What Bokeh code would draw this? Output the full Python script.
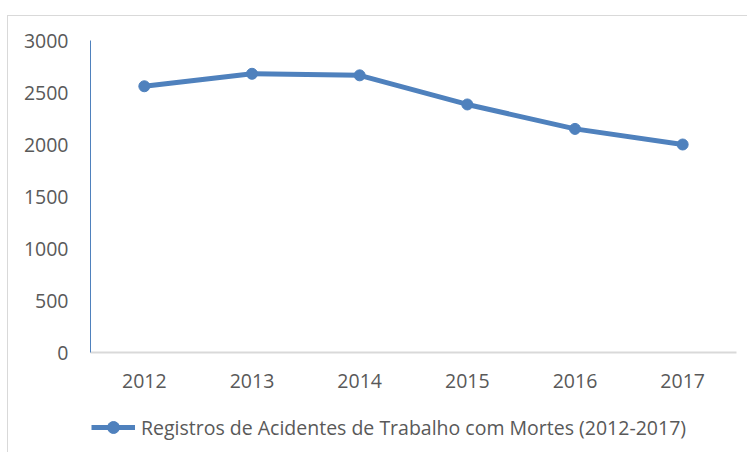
from bokeh.plotting import figure
from bokeh.layouts import column
from bokeh.models import ColumnDataSource, Legend, LegendItem, FixedTicker, Range1d
from bokeh.embed import file_html
from bokeh.resources import INLINE

years = ["2012", "2013", "2014", "2015", "2016", "2017"]
deaths = [2560, 2680, 2665, 2385, 2150, 2000]
y_ticks = [0, 500, 1000, 1500, 2000, 2500, 3000]
series_name = "Registros de Acidentes de Trabalho com Mortes (2012-2017)"

BLUE = "#4F81BD"
TEXT = "#595959"
FONT = "Open Sans"
FSIZE = "19.5px"

src = ColumnDataSource(dict(year=years, deaths=deaths))

# main chart
p = figure(x_range=years, y_range=Range1d(0, 3000), width=739, height=386,
           output_backend="svg", toolbar_location=None,
           min_border_left=82, min_border_right=11, min_border_top=24, min_border_bottom=50)
p.outline_line_color = None
p.xgrid.grid_line_color = None
p.ygrid.grid_line_color = None

p.line("year", "deaths", source=src, line_color=BLUE, line_width=5)
p.scatter("year", "deaths", source=src, size=11, fill_color=BLUE, line_color=BLUE)

p.yaxis.ticker = FixedTicker(ticks=y_ticks)
p.yaxis.axis_line_color = BLUE
p.yaxis.axis_line_width = 1
p.yaxis.major_tick_line_color = None
p.yaxis.minor_tick_line_color = None
p.yaxis.major_label_standoff = 16

p.xaxis.axis_line_color = "#d9d9d9"
p.xaxis.axis_line_width = 2
p.xaxis.major_tick_line_color = None
p.xaxis.minor_tick_line_color = None
p.xaxis.major_label_standoff = 15

for ax in (p.xaxis[0], p.yaxis[0]):
    ax.major_label_text_font = FONT
    ax.major_label_text_font_size = FSIZE
    ax.major_label_text_color = TEXT

# legend strip below the chart (legend proxies share the same data source)
lg = figure(x_range=years, y_range=Range1d(0, 3000), width=739, height=50,
            output_backend="svg", toolbar_location=None,
            x_axis_type=None, y_axis_type=None,
            min_border_left=0, min_border_right=0, min_border_top=0, min_border_bottom=0)
lg.outline_line_color = None
lg.grid.visible = False
l_line = lg.line("year", "deaths", source=src, line_color=BLUE, line_width=5, visible=False)
l_pts = lg.scatter("year", "deaths", source=src, size=11, fill_color=BLUE, line_color=BLUE, visible=False)

legend = Legend(items=[LegendItem(label=series_name, renderers=[l_line, l_pts])],
                location=(1, 10), orientation="horizontal",
                padding=0, margin=0, spacing=0,
                glyph_width=44, glyph_height=30, label_standoff=6,
                label_text_font=FONT, label_text_font_size=FSIZE, label_text_color=TEXT,
                border_line_color=None, background_fill_alpha=0)
lg.add_layout(legend, "center")

layout = column(p, lg, spacing=0)
layout.styles = {"margin-top": "15px", "margin-left": "7px",
                 "border-top": "1px solid #d9d9d9", "border-left": "1px solid #d9d9d9"}

open("out.html", "w").write(file_html(layout, INLINE))
